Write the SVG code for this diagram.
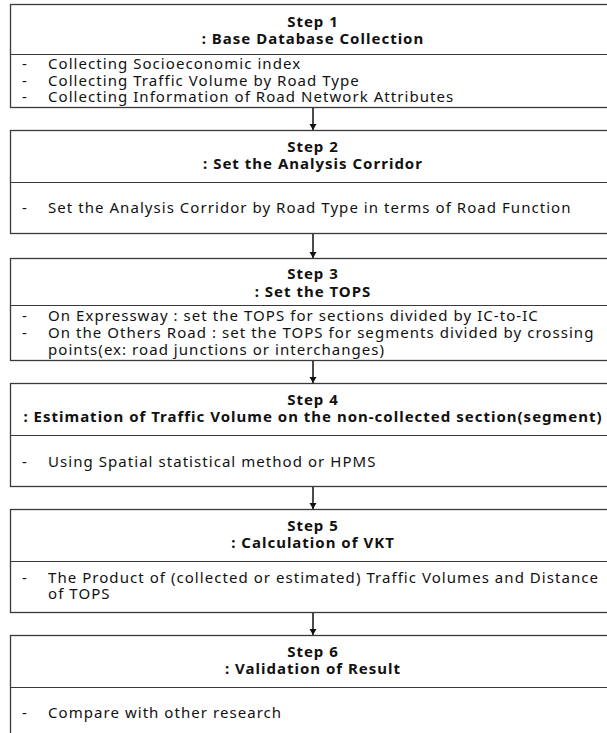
<svg xmlns="http://www.w3.org/2000/svg" width="607" height="733" viewBox="0 0 607 733">
<defs>
<style>
.box{fill:#fff;stroke:#3a3a3a;stroke-width:1.3}
.div{stroke:#3a3a3a;stroke-width:1.2}
.t{font-family:"Noto Sans","Open Sans",sans-serif;font-size:15px;font-weight:bold;fill:#111;text-anchor:middle;letter-spacing:1px}
.b{font-family:"Noto Sans","Open Sans",sans-serif;font-size:15px;fill:#111;letter-spacing:1.05px}
.c{stroke:#111;stroke-width:1.5;fill:none}
</style>
<marker id="ah" markerWidth="8" markerHeight="8" refX="6" refY="4" orient="auto" markerUnits="userSpaceOnUse">
<path d="M0,0.5 L6,4 L0,7.5 Z" fill="#111"/>
</marker>
</defs>
<rect width="607" height="733" fill="#fff"/>
<g id="connectors">
<line class="c" x1="313" y1="108" x2="313" y2="130" marker-end="url(#ah)"/>
<line class="c" x1="313" y1="234" x2="313" y2="258" marker-end="url(#ah)"/>
<line class="c" x1="313" y1="360" x2="313" y2="383" marker-end="url(#ah)"/>
<line class="c" x1="313" y1="486" x2="313" y2="509" marker-end="url(#ah)"/>
<line class="c" x1="313" y1="612" x2="313" y2="635" marker-end="url(#ah)"/>
</g>
<g id="step1">
<rect class="box" x="10.5" y="4.5" width="610" height="103"/>
<line class="div" x1="10.5" y1="54.5" x2="620" y2="54.5"/>
<text class="t" x="313" y="27">Step 1</text>
<text class="t" x="313" y="44">: Base Database Collection</text>
<text class="b" x="22" y="69">-</text><text class="b" x="48" y="69">Collecting Socioeconomic index</text>
<text class="b" x="22" y="86">-</text><text class="b" x="48" y="86">Collecting Traffic Volume by Road Type</text>
<text class="b" x="22" y="102">-</text><text class="b" x="48" y="102">Collecting Information of Road Network Attributes</text>
</g>
<g id="step2">
<rect class="box" x="10.5" y="130.5" width="610" height="103"/>
<line class="div" x1="10.5" y1="182.5" x2="620" y2="182.5"/>
<text class="t" x="313" y="152">Step 2</text>
<text class="t" x="313" y="169">: Set the Analysis Corridor</text>
<text class="b" x="22" y="213">-</text><text class="b" x="48" y="213">Set the Analysis Corridor by Road Type in terms of Road Function</text>
</g>
<g id="step3">
<rect class="box" x="10.5" y="258.5" width="610" height="102"/>
<line class="div" x1="10.5" y1="305.5" x2="620" y2="305.5"/>
<text class="t" x="313" y="279">Step 3</text>
<text class="t" x="313" y="297">: Set the TOPS</text>
<text class="b" x="22" y="321">-</text><text class="b" x="48" y="321">On Expressway : set the TOPS for sections divided by IC-to-IC</text>
<text class="b" x="22" y="338">-</text><text class="b" x="48" y="338">On the Others Road : set the TOPS for segments divided by crossing</text>
<text class="b" x="48" y="355">points(ex: road junctions or interchanges)</text>
</g>
<g id="step4">
<rect class="box" x="10.5" y="383.5" width="610" height="103"/>
<line class="div" x1="10.5" y1="435.5" x2="620" y2="435.5"/>
<text class="t" x="313" y="405">Step 4</text>
<text class="t" x="313" y="422">: Estimation of Traffic Volume on the non-collected section(segment)</text>
<text class="b" x="22" y="467">-</text><text class="b" x="48" y="467">Using Spatial statistical method or HPMS</text>
</g>
<g id="step5">
<rect class="box" x="10.5" y="509.5" width="610" height="103"/>
<line class="div" x1="10.5" y1="561.5" x2="620" y2="561.5"/>
<text class="t" x="313" y="531">Step 5</text>
<text class="t" x="313" y="548">: Calculation of VKT</text>
<text class="b" x="22" y="583">-</text><text class="b" x="48" y="583">The Product of (collected or estimated) Traffic Volumes and Distance</text>
<text class="b" x="48" y="599">of TOPS</text>
</g>
<g id="step6">
<rect class="box" x="10.5" y="635.5" width="610" height="110"/>
<line class="div" x1="10.5" y1="687.5" x2="620" y2="687.5"/>
<text class="t" x="313" y="657">Step 6</text>
<text class="t" x="313" y="674">: Validation of Result</text>
<text class="b" x="22" y="718">-</text><text class="b" x="48" y="718">Compare with other research</text>
</g>
</svg>
